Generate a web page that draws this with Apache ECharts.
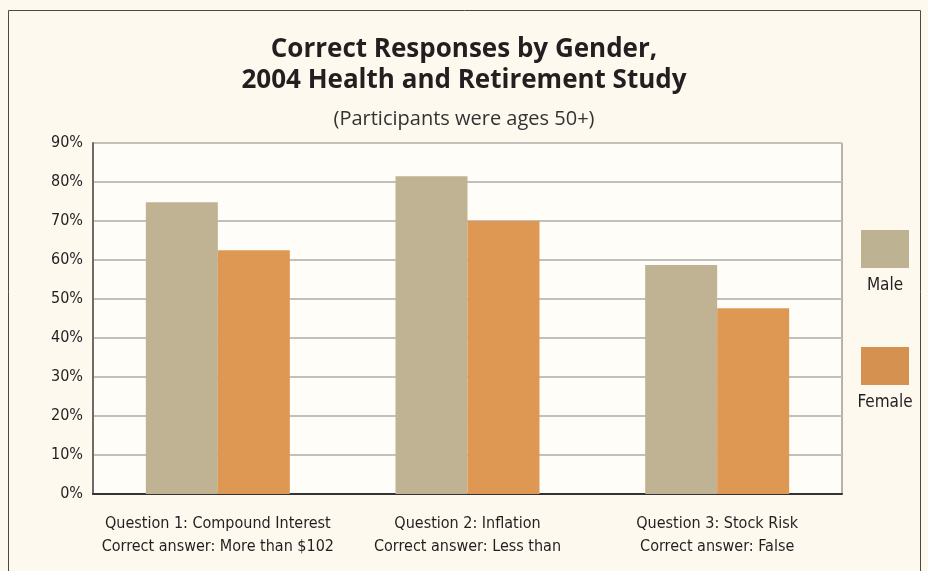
<!DOCTYPE html>
<html>
<head>
<meta charset="utf-8">
<script src="https://cdn.jsdelivr.net/npm/echarts@6/dist/echarts.min.js"></script>
<style>
  html, body { margin: 0; padding: 0; background: #fdf9ee; }
  #chart { width: 928px; height: 571px; }
</style>
</head>
<body>
<div id="chart"></div>
<script>
// data
var questions = [
    'Question 1: Compound Interest\nCorrect answer: More than $102',
    'Question 2: Inflation\nCorrect answer: Less than',
    'Question 3: Stock Risk\nCorrect answer: False'
];
var maleValues = [74.8, 81.5, 58.7];
var femaleValues = [62.5, 70.0, 47.6];
var seriesNames = ['Male', 'Female'];

var narrow = '"Liberation Sans Narrow", "DejaVu Sans Condensed", sans-serif';

var myChart = echarts.init(document.getElementById('chart'));

var option = {
    backgroundColor: '#fdf9ee',
    animation: false,
    title: [{
        text: 'Correct Responses by Gender,\n2004 Health and Retirement Study',
        left: 'center',
        top: 29,
        textStyle: {
            fontFamily: '"Open Sans", sans-serif',
            fontWeight: 'bold',
            fontSize: 26,
            lineHeight: 31,
            color: '#231f20'
        }
    }, {
        text: '(Participants were ages 50+)',
        left: 'center',
        top: 104,
        textStyle: {
            fontFamily: '"Open Sans", sans-serif',
            fontWeight: 'normal',
            fontSize: 20,
            color: '#333333'
        }
    }],
    legend: {
        orient: 'vertical',
        left: 856,
        top: 225,
        itemWidth: 48,
        itemHeight: 38,
        itemGap: 79,
        icon: 'rect',
        selectedMode: false,
        formatter: function () { return ''; },
        data: [
            { name: seriesNames[0], itemStyle: { color: '#bdb393' } },
            { name: seriesNames[1], itemStyle: { color: '#d4914f' } }
        ]
    },
    graphic: [{
        type: 'rect',
        shape: { x: 8.5, y: 10.5, width: 912, height: 600 },
        style: { fill: 'none', stroke: '#4a4a4a', lineWidth: 1 },
        silent: true
    }, {
        type: 'text',
        x: 885, y: 277,
        style: { text: seriesNames[0], font: '17px ' + narrow, fill: '#231f20', align: 'center' }
    }, {
        type: 'text',
        x: 885, y: 394,
        style: { text: seriesNames[1], font: '17px ' + narrow, fill: '#231f20', align: 'center' }
    }],
    grid: {
        left: 93,
        right: 86,
        top: 143,
        bottom: 77,
        show: true,
        backgroundColor: '#fffdf8',
        borderColor: '#6e6b62',
        borderWidth: 1
    },
    xAxis: {
        type: 'category',
        data: questions,
        axisTick: { show: false },
        axisLine: { lineStyle: { color: '#333333', width: 2 } },
        axisLabel: {
            interval: 0,
            margin: 18,
            fontFamily: narrow,
            fontSize: 16,
            lineHeight: 23,
            color: '#231f20'
        }
    },
    yAxis: {
        type: 'value',
        min: 0,
        max: 90,
        interval: 10,
        axisLine: { show: true, lineStyle: { color: '#6e6b62', width: 2 } },
        axisTick: { show: false },
        splitLine: { lineStyle: { color: '#c2c0bb', width: 2 } },
        axisLabel: {
            formatter: '{value}%',
            margin: 10,
            fontFamily: narrow,
            fontSize: 16,
            color: '#231f20'
        }
    },
    series: [{
        name: seriesNames[0],
        type: 'bar',
        data: maleValues,
        barWidth: 72,
        barGap: '0%',
        itemStyle: { color: '#bfb393' }
    }, {
        name: seriesNames[1],
        type: 'bar',
        data: femaleValues,
        barWidth: 72,
        barGap: '0%',
        itemStyle: { color: '#de9854' }
    }]
};

myChart.setOption(option);
</script>
</body>
</html>
